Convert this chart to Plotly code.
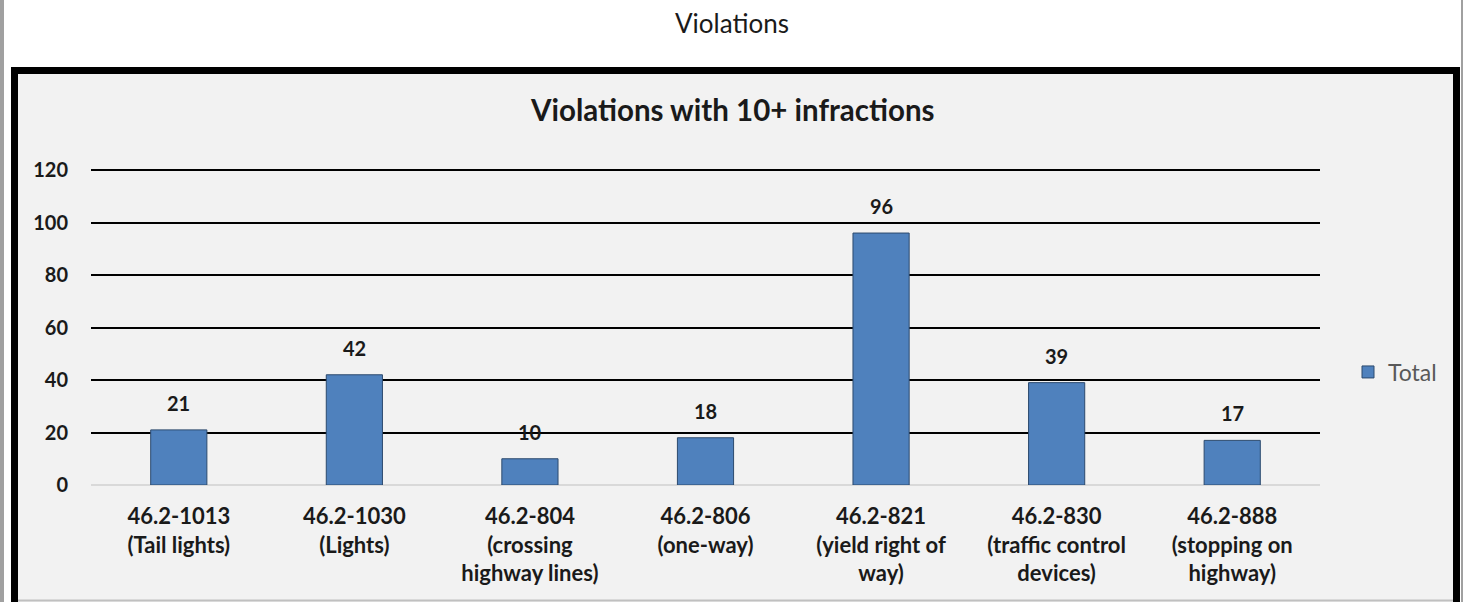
import plotly.graph_objects as go

categories = [
    "46.2-1013<br>(Tail lights)",
    "46.2-1030<br>(Lights)",
    "46.2-804<br>(crossing<br>highway lines)",
    "46.2-806<br>(one-way)",
    "46.2-821<br>(yield right of<br>way)",
    "46.2-830<br>(traffic control<br>devices)",
    "46.2-888<br>(stopping on<br>highway)",
]
totals = [21, 42, 10, 18, 96, 39, 17]
y_ticks = [0, 20, 40, 60, 80, 100, 120]
series_name = "Total"

W, H = 1463, 602
L, R, T, B = 91, 1320, 169, 485  # plot area in px


def px(x):
    return (x - L) / (R - L)


def py(y):
    return (B - y) / (B - T)


FONT = "Lato"

fig = go.Figure()
fig.add_trace(go.Bar(
    x=categories, y=totals, name=series_name,
    marker=dict(color="#4f81bd", line=dict(color="#2c4a6e", width=1)),
    showlegend=True,
))

label_annotations = [
    dict(x=c, y=v, xref="x", yref="y", text=f"<b>{v}</b>", showarrow=False,
         xanchor="center", yanchor="bottom", yshift=13,
         font=dict(family=FONT, size=20, color="#1a1a1a"))
    for c, v in zip(categories, totals)
]

fig.update_layout(
    width=W, height=H,
    margin=dict(l=L, r=W - R, t=T, b=H - B, autoexpand=False),
    paper_bgcolor="white",
    plot_bgcolor="#f2f2f2",
    bargap=0.68,
    font=dict(family=FONT),
    xaxis=dict(
        showgrid=False, showline=False, zeroline=False,
        tickfont=dict(family=FONT, size=22, color="#1a1a1a", weight="bold"),
        ticks="", ticklabelstandoff=16,
    ),
    yaxis=dict(
        range=[0, 120.4], tickvals=y_ticks,
        showgrid=True, gridcolor="black", gridwidth=1.5,
        zeroline=True, zerolinecolor="#d9d9d9", zerolinewidth=2,
        showline=False, ticks="",
        tickfont=dict(family=FONT, size=20, color="#1a1a1a", weight="bold"),
        ticklabelstandoff=22,
    ),
    legend=dict(
        x=px(1348), y=py(372), xanchor="left", yanchor="middle",
        font=dict(family=FONT, size=23, color="#595959"),
        bgcolor="rgba(0,0,0,0)", itemwidth=30,
    ),
    shapes=[
        # gray outer window borders
        dict(type="rect", xref="paper", yref="paper",
             x0=px(0), x1=px(4), y0=py(610), y1=py(-5),
             fillcolor="#a0a0a0", line=dict(width=0), layer="below"),
        dict(type="rect", xref="paper", yref="paper",
             x0=px(1461), x1=px(1468), y0=py(610), y1=py(-5),
             fillcolor="#a0a0a0", line=dict(width=0), layer="below"),
        # chart area background inside frame
        dict(type="rect", xref="paper", yref="paper",
             x0=px(14.5), x1=px(1456.5), y0=py(620), y1=py(70.5),
             fillcolor="#f2f2f2", line=dict(width=0), layer="below"),
        # black frame
        dict(type="rect", xref="paper", yref="paper",
             x0=px(14.5), x1=px(1456.5), y0=py(620), y1=py(70.5),
             line=dict(color="black", width=7), layer="above"),
        # bottom thin gray line
        dict(type="line", xref="paper", yref="paper",
             x0=px(18), x1=px(1453), y0=py(600.5), y1=py(600.5),
             line=dict(color="#c0c0c0", width=2), layer="above"),
    ],
    annotations=[
        dict(text="Violations", xref="paper", yref="paper",
             x=px(731.5), y=py(23), xanchor="center", yanchor="middle",
             showarrow=False, font=dict(family=FONT, size=26, color="#1a1a1a")),
        dict(text="<b>Violations with 10+ infractions</b>", xref="paper", yref="paper",
             x=px(732.5), y=py(110), xanchor="center", yanchor="middle",
             showarrow=False, font=dict(family=FONT, size=29.5, color="#1a1a1a")),
    ] + label_annotations,
)

fig.write_html("out.html", config={"displayModeBar": False},
               post_script="document.body.style.margin='0';")
